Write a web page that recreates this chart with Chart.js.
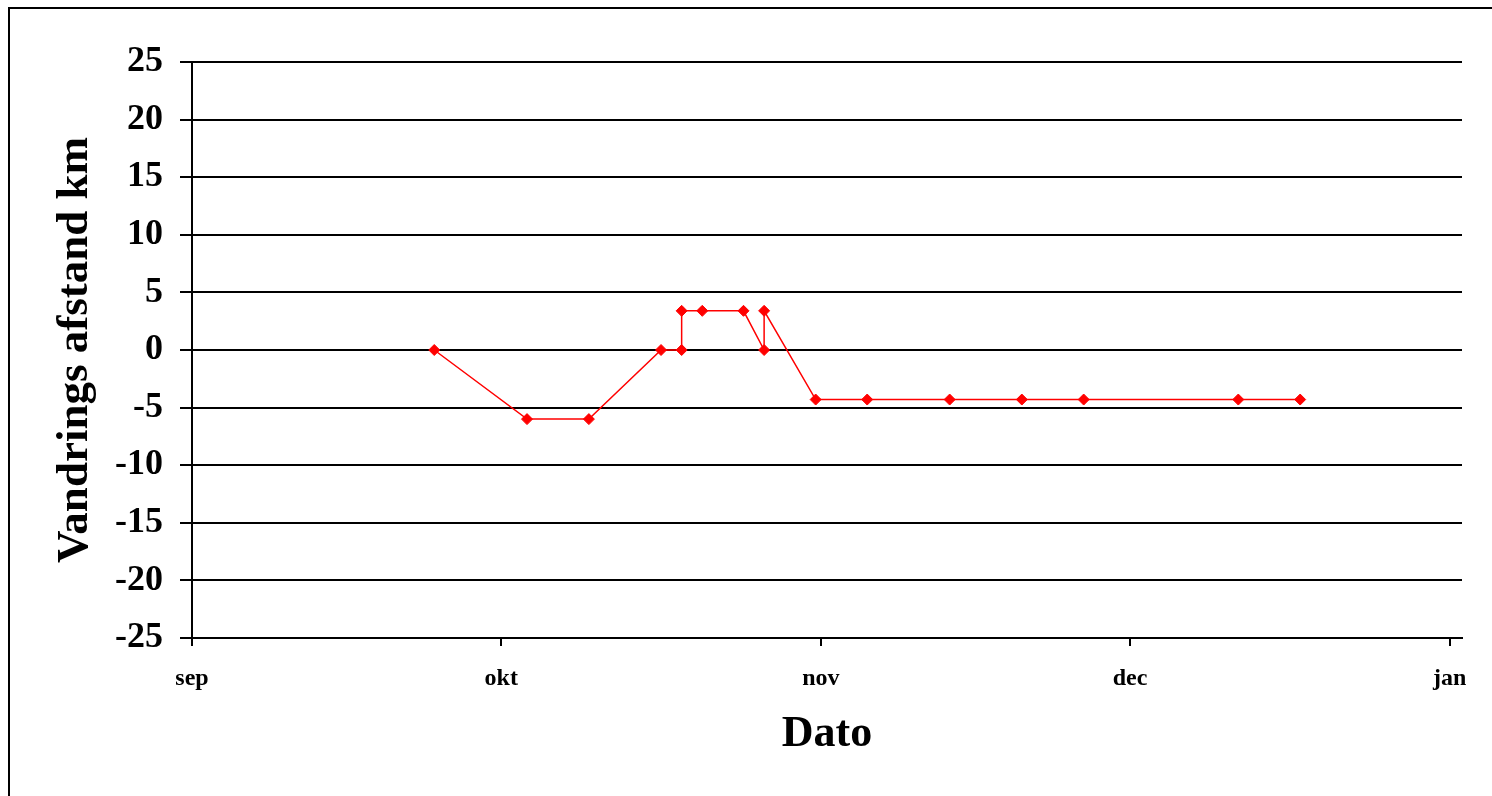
<!DOCTYPE html>
<html>
<head>
<meta charset="utf-8">
<script src="https://cdn.jsdelivr.net/npm/chart.js@4.4.1/dist/chart.umd.min.js"></script>
<style>
  html, body { margin: 0; padding: 0; background: #fff; overflow: hidden; }
  #wrap { position: relative; width: 1492px; height: 796px; }
  #frame { position: absolute; left: 8px; top: 7px; width: 1500px; height: 800px;
           border-left: 2px solid #000; border-top: 2px solid #000; pointer-events: none; }
  canvas { position: absolute; left: 0; top: 0; }
</style>
</head>
<body>
<div id="wrap">
  <canvas id="chart" width="1492" height="796"></canvas>
  <div id="frame"></div>
</div>
<script>
// dage regnet fra 1. sep
const dage     = [23.5, 32.5, 38.5, 45.5, 47.5, 47.5, 49.5, 53.5, 55.5, 55.5, 60.5, 65.5, 73.5, 80.5, 86.5, 101.5, 107.5];
const afstand  = [0, -6.0, -6.0, 0, 0, 3.4, 3.4, 3.4, 0, 3.4, -4.3, -4.3, -4.3, -4.3, -4.3, -4.3, -4.3];
const maanedPos   = [0, 30, 61, 91, 122];
const maanedNavne = ['sep', 'okt', 'nov', 'dec', 'jan'];

const punkter = dage.map((d, i) => ({ x: d, y: afstand[i] }));
const serif = "'Liberation Serif', 'Times New Roman', serif";

new Chart(document.getElementById('chart'), {
    type: 'line',
    data: { datasets: [{
        data: punkter,
        borderColor: '#ff0000', backgroundColor: '#ff0000',
        borderWidth: 1.5, pointStyle: 'rectRot', pointRadius: 5.5,
        pointBorderWidth: 1, tension: 0, fill: false
    }]},
    options: {
        responsive: false, animation: false,
        layout: { padding: { left: 0, top: 62, right: 30, bottom: 0 } },
        plugins: { legend: { display: false }, tooltip: { enabled: false } },
        scales: {
            x: {
                type: 'linear', min: 0, max: 123.2,
                afterBuildTicks: s => { s.ticks = maanedPos.map(v => ({ value: v })); },
                afterFit: s => { s.height = 158; },
                ticks: {
                    autoSkip: false, maxRotation: 0, padding: 18, color: '#000',
                    font: { family: serif, size: 24, weight: 'bold' },
                    callback: v => maanedNavne[maanedPos.indexOf(v)] || ''
                },
                grid: { drawOnChartArea: false, drawTicks: true, tickLength: 8, color: '#000', lineWidth: 2 },
                border: { display: true, color: '#000', width: 2 },
                title: { display: true, text: 'Dato', color: '#000',
                         font: { family: serif, size: 44, weight: 'bold' }, padding: { top: 0, bottom: 35 } }
            },
            y: {
                min: -25, max: 25,
                afterFit: s => { s.width = 192; },
                ticks: { stepSize: 5, padding: 17, color: '#000',
                         font: { family: serif, size: 36, weight: 'bold' } },
                grid: { color: '#000', lineWidth: 2, tickLength: 12 },
                border: { display: true, color: '#000', width: 2 },
                title: { display: true, text: 'Vandrings afstand km', color: '#000',
                         font: { family: serif, size: 45, weight: 'bold' }, padding: { top: 48, bottom: 0 } }
            }
        }
    }
});
</script>
</body>
</html>
